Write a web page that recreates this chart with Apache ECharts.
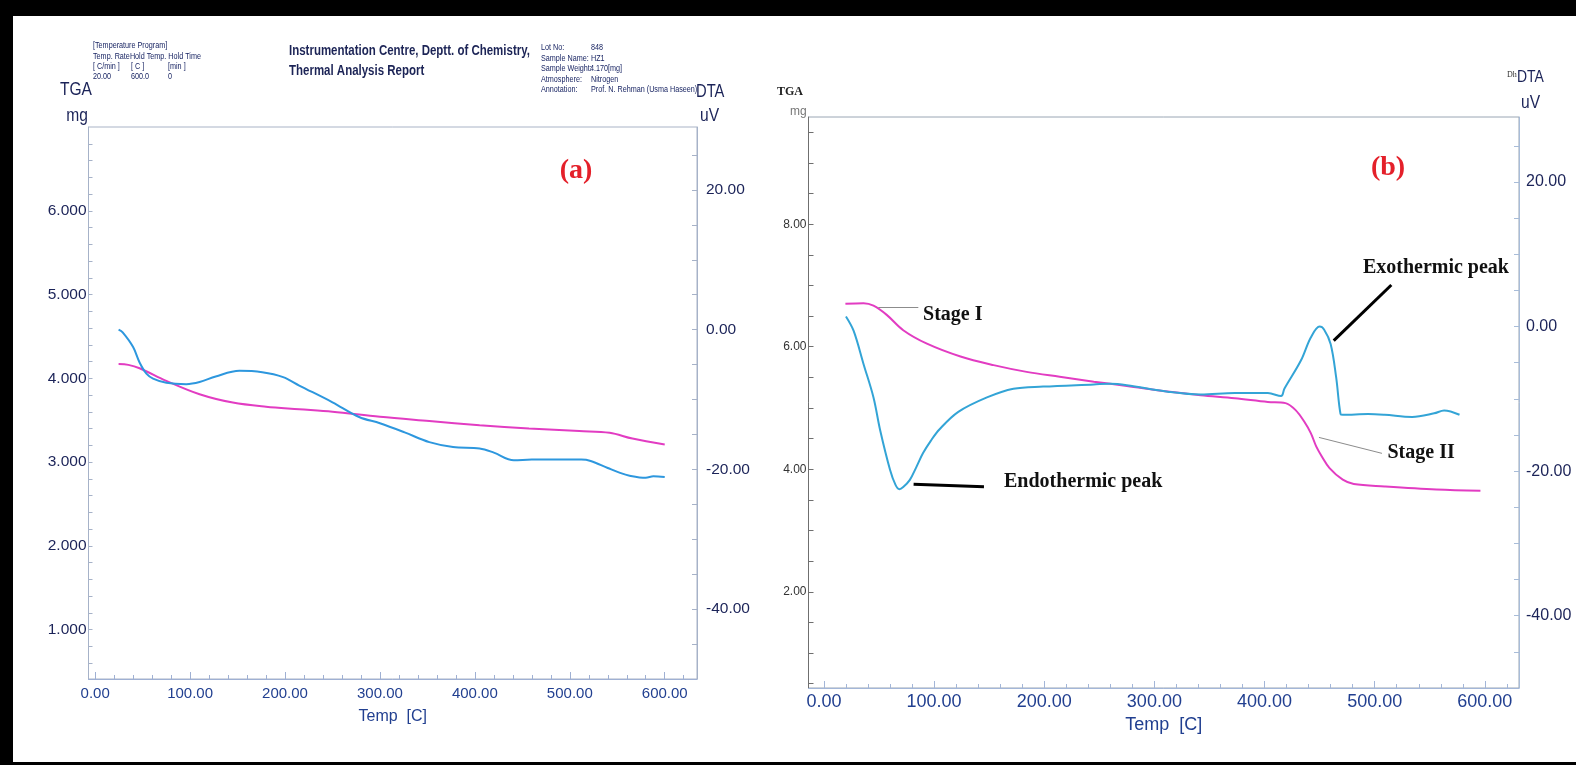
<!DOCTYPE html>
<html>
<head>
<meta charset="utf-8">
<title>TGA / DTA thermal analysis</title>
<script src="https://cdn.jsdelivr.net/npm/echarts@6/dist/echarts.min.js"></script>
<style>
  html, body { margin: 0; padding: 0; background: #fff; }
  #chart { width: 1576px; height: 765px; }
</style>
</head>
<body>
<div id="chart"></div>
<script>
// ---------- Run (a): TGA mass [mg] and DTA signal [uV] against temperature [C] ----------
const tgaA = [
  [24.7, 4.17], [35, 4.16], [46.8, 4.12], [75, 3.97], [110, 3.81], [145, 3.71],
  [180, 3.66], [215, 3.63], [250, 3.60], [300, 3.54], [352, 3.49], [405, 3.44],
  [457, 3.40], [510, 3.37], [542, 3.35], [566, 3.28], [600, 3.21]
];
const dtaA = [
  [24.7, 0.0], [29, -0.4], [40, -2.5], [46.8, -4.7], [54, -6.3], [61, -7.0],
  [75, -7.6], [96, -7.8], [110, -7.5], [127, -6.7], [152, -5.9], [176, -6.1],
  [198, -6.8], [215, -8.0], [250, -10.4], [278, -12.5], [300, -13.4], [326, -14.7],
  [352, -16.1], [377, -16.8], [405, -17.0], [420, -17.6], [441, -18.7], [460, -18.6],
  [512, -18.6], [522, -18.8], [540, -19.8], [553, -20.5], [563, -20.9], [580, -21.2],
  [588, -21.0], [600, -21.1]
];

// ---------- Run (b) ----------
const tgaB = [
  [19.5, 6.70], [36, 6.71], [45, 6.67], [57, 6.52], [72, 6.27], [93.5, 6.05],
  [124, 5.84], [154, 5.70], [184, 5.59], [214, 5.51], [245, 5.43], [275, 5.36],
  [312, 5.27], [342, 5.21], [373, 5.16], [403, 5.10], [419, 5.08], [428, 4.97],
  [436, 4.78], [442, 4.59], [447, 4.37], [452, 4.21], [459, 4.02], [471, 3.83],
  [481, 3.76], [509, 3.72], [556, 3.67], [596, 3.65]
];
const dtaB = [
  [20, 1.4], [27, -0.6], [36, -5.2], [45, -9.8], [51, -14.3], [60, -19.8],
  [65, -21.9], [68.5, -22.5], [72, -22.2], [78, -21.2], [84, -19.4], [90, -17.5],
  [97, -15.8], [105, -14.2], [122, -11.8], [148, -9.8], [172, -8.6], [199, -8.3],
  [245, -8.0], [260, -7.9], [275, -8.1], [312, -9.0], [342, -9.4], [373, -9.2],
  [403, -9.2], [415, -9.6], [418, -8.6], [433, -4.7], [442, -1.5], [450, 0.0],
  [454, -0.4], [460, -2.4], [465, -7.0], [469, -12.1], [471, -12.2], [494, -12.1],
  [509, -12.2], [534, -12.5], [554, -12.0], [563, -11.6], [577, -12.2]
];

// ---------- Tick labels ----------
const tempLabels = [0, 100, 200, 300, 400, 500, 600];
const massLabelsA = [1, 2, 3, 4, 5, 6];
const massLabelsB = [2, 4, 6, 8];
const dtaLabels = [-40, -20, 0, 20];

// ---------- Annotations of run (b), in data units ----------
const leadersB = [
  { on: 'tga', from: [49.4, 6.64], to: [85.7, 6.64], color: '#8c8c8c', width: 1 },
  { on: 'dta', from: [515.1, 5.76], to: [462.8, -1.95], color: '#000', width: 3 },
  { on: 'tga', from: [449.4, 4.52], to: [506.6, 4.26], color: '#8c8c8c', width: 1 },
  { on: 'dta', from: [81.4, -21.8], to: [145.3, -22.15], color: '#000', width: 3 }
];
const notesB = [
  { on: 'tga', text: 'Stage I', at: [90, 6.52], pos: 'right' },
  { on: 'dta', text: 'Exothermic peak', at: [555.6, 8.1], pos: 'inside' },
  { on: 'tga', text: 'Stage II', at: [511.6, 4.27], pos: 'right' },
  { on: 'dta', text: 'Endothermic peak', at: [163.5, -21.5], pos: 'right' }
];

// ---------- helpers ----------
function steps(from, to, step) {
  const out = [];
  for (let v = from; v <= to + 1e-9; v += step) out.push(+v.toFixed(4));
  return out;
}

const SANS = "'Liberation Sans',Arial,sans-serif";
const SERIF = "'Liberation Serif','Times New Roman',serif";
const PINK = '#e23cc2';
const BLUE_A = '#2d97de';
const BLUE_B = '#33a4d6';
const NAVY = '#1b2358';
const XBLUE = '#213f90';
const NARROW_X = 0.82;   // horizontal squeeze for the instrument's narrow lettering

function leaderData(list, key) {
  return list.filter(l => l.on === key).map(l => [
    { coord: l.from, lineStyle: { color: l.color, width: l.width, type: 'solid' } },
    { coord: l.to }
  ]);
}
function noteData(list, key) {
  return list.filter(n => n.on === key).map(n => ({
    coord: n.at,
    symbol: 'circle',
    symbolSize: 0.01,
    itemStyle: { color: 'transparent' },
    label: {
      show: true, formatter: n.text, position: n.pos, distance: 0,
      fontFamily: SERIF, fontWeight: 'bold', fontSize: 20, color: '#111'
    }
  }));
}

function tempAxis(grid, min, max, o) {
  return [
    {
      type: 'value', gridIndex: grid, min: min, max: max, position: 'bottom',
      axisLine: { show: true, onZero: false, lineStyle: { color: o.line, width: 1 } },
      axisTick: { show: true, inside: true, length: 4, customValues: steps(0, 620, 20),
                  lineStyle: { color: o.line } },
      axisLabel: { show: true, customValues: tempLabels, formatter: v => v.toFixed(2),
                   fontFamily: SANS, fontSize: o.labelSize, color: XBLUE, margin: o.margin },
      splitLine: { show: false },
      name: 'Temp  [C]', nameLocation: 'middle', nameGap: o.nameGap,
      nameTextStyle: { fontFamily: SANS, fontSize: o.nameSize, color: XBLUE }
    },
    {
      // longer ticks under the labelled temperatures
      type: 'value', gridIndex: grid, min: min, max: max, position: 'bottom',
      axisLine: { show: false, onZero: false },
      axisTick: { show: true, inside: true, length: 7, customValues: tempLabels,
                  lineStyle: { color: o.line } },
      axisLabel: { show: false }, splitLine: { show: false }
    }
  ];
}

function valueAxis(grid, pos, min, max, ticks, labels, fmt, o) {
  return {
    type: 'value', gridIndex: grid, position: pos, min: min, max: max,
    axisLine: { show: true, onZero: false, lineStyle: { color: o.line, width: 1 } },
    axisTick: { show: true, inside: true, length: o.tick, customValues: ticks,
                lineStyle: { color: o.line } },
    axisLabel: { show: true, customValues: labels, formatter: fmt,
                 fontFamily: SANS, fontSize: o.size, color: o.color, margin: o.margin },
    splitLine: { show: false }
  };
}

// text placed at (x, y); sx squeezes it horizontally around its anchor
function txt(x, y, text, font, fill, align, sx) {
  const a = align || 'left';
  return {
    type: 'text', silent: true, z: 10, x: x, y: y, scaleX: sx || 1, scaleY: 1,
    style: { x: 0, y: 0, text: text, font: font, fill: fill,
             textAlign: a, textVerticalAlign: 'middle', align: a, verticalAlign: 'middle' }
  };
}
function ntxt(x, y, text, font, fill, align) {
  return txt(x, y, text, font, fill, align, NARROW_X);
}

const hdr = "8.8px " + SANS;
const HDR = '#1a2664';

const option = {
  animation: false,
  backgroundColor: '#ffffff',
  grid: [
    { left: 88.5, top: 127, width: 608.5, height: 552, show: true,
      borderColor: '#a9b3c6', borderWidth: 1, backgroundColor: 'transparent',
      containLabel: false, outerBoundsMode: 'none' },
    { left: 808.5, top: 117, width: 710.5, height: 571, show: true,
      borderColor: '#9aa6b4', borderWidth: 1, backgroundColor: 'transparent',
      containLabel: false, outerBoundsMode: 'none' }
  ],
  xAxis: [].concat(
    tempAxis(0, -7, 634, { line: '#9fb0d3', labelSize: 15, margin: 7, nameGap: 30, nameSize: 16 }),
    tempAxis(1, -14, 631, { line: '#a3b6d8', labelSize: 18, margin: 5, nameGap: 26, nameSize: 18 })
  ),
  yAxis: [
    valueAxis(0, 'left', 0.41, 7.0, steps(0.6, 6.8, 0.2), massLabelsA, v => v.toFixed(3),
      { line: '#a6b2c8', tick: 4, size: 15.5, color: NAVY, margin: 2 }),
    valueAxis(0, 'right', -50, 29, steps(-45, 25, 5), dtaLabels, v => v.toFixed(2),
      { line: '#a6b2c8', tick: 5, size: 15.5, color: NAVY, margin: 9 }),
    valueAxis(1, 'left', 0.43, 9.75, steps(0.5, 9.5, 0.5), massLabelsB, v => v.toFixed(2),
      { line: '#6f6f6f', tick: 5, size: 12, color: '#333', margin: 2 }),
    valueAxis(1, 'right', -50, 29, steps(-45, 25, 5), dtaLabels, v => v.toFixed(2),
      { line: '#a8bcd8', tick: 5, size: 16, color: NAVY, margin: 7 })
  ],
  series: [
    { name: 'TGA (a)', type: 'line', xAxisIndex: 0, yAxisIndex: 0, data: tgaA,
      showSymbol: false, smooth: 0.35, lineStyle: { color: PINK, width: 2 }, z: 3 },
    { name: 'DTA (a)', type: 'line', xAxisIndex: 0, yAxisIndex: 1, data: dtaA,
      showSymbol: false, smooth: 0.35, lineStyle: { color: BLUE_A, width: 2 }, z: 3 },
    { name: 'TGA (b)', type: 'line', xAxisIndex: 2, yAxisIndex: 2, data: tgaB,
      showSymbol: false, smooth: 0.35, lineStyle: { color: PINK, width: 2 }, z: 3,
      markLine: { silent: true, symbol: ['none', 'none'], label: { show: false },
                  data: leaderData(leadersB, 'tga') },
      markPoint: { silent: true, data: noteData(notesB, 'tga') } },
    { name: 'DTA (b)', type: 'line', xAxisIndex: 2, yAxisIndex: 3, data: dtaB,
      showSymbol: false, smooth: 0.35, lineStyle: { color: BLUE_B, width: 2 }, z: 3,
      markLine: { silent: true, symbol: ['none', 'none'], label: { show: false },
                  data: leaderData(leadersB, 'dta') },
      markPoint: { silent: true, data: noteData(notesB, 'dta') } }
  ],
  graphic: [
    // frame
    { type: 'rect', silent: true, shape: { x: 0, y: 0, width: 13, height: 765 }, style: { fill: '#000' } },
    { type: 'rect', silent: true, shape: { x: 0, y: 0, width: 1576, height: 16 }, style: { fill: '#000' } },
    { type: 'rect', silent: true, shape: { x: 0, y: 762, width: 1576, height: 3 }, style: { fill: '#000' } },

    // run (a) report header
    ntxt(93, 46, '[Temperature Program]', hdr, HDR),
    ntxt(93, 57, 'Temp. RateHold Temp. Hold Time', hdr, HDR),
    ntxt(93, 67, '[ C/min ]', hdr, HDR),
    ntxt(131, 67, '[ C ]', hdr, HDR),
    ntxt(168, 67, '[min ]', hdr, HDR),
    ntxt(93, 77, '20.00', hdr, HDR),
    ntxt(131, 77, '600.0', hdr, HDR),
    ntxt(168, 77, '0', hdr, HDR),
    ntxt(289, 51, 'Instrumentation Centre, Deptt. of Chemistry,', "bold 14px " + SANS, '#1c2456'),
    ntxt(289, 71, 'Thermal Analysis Report', "bold 14px " + SANS, '#1c2456'),
    ntxt(541, 47.5, 'Lot No:', hdr, HDR),
    ntxt(591, 47.5, '848', hdr, HDR),
    ntxt(541, 58.5, 'Sample Name:', hdr, HDR),
    ntxt(591, 58.5, 'HZ1', hdr, HDR),
    ntxt(541, 69, 'Sample Weight:', hdr, HDR),
    ntxt(590, 69, '4.170[mg]', hdr, HDR),
    ntxt(541, 79.5, 'Atmosphere:', hdr, HDR),
    ntxt(591, 79.5, 'Nitrogen', hdr, HDR),
    ntxt(541, 90, 'Annotation:', hdr, HDR),
    ntxt(591, 90, 'Prof. N. Rehman (Usma Haseen)', hdr, HDR),

    // run (a) axis captions
    ntxt(76, 90, 'TGA', "19px " + SANS, NAVY, 'center'),
    ntxt(88, 116, 'mg', "19px " + SANS, NAVY, 'right'),
    ntxt(696, 92, 'DTA', "18px " + SANS, NAVY),
    ntxt(700, 116, 'uV', "19px " + SANS, NAVY),
    txt(576, 171, '(a)', "bold 28px " + SERIF, '#e4202a', 'center'),

    // run (b) axis captions
    txt(777, 92, 'TGA', "bold 12px " + SERIF, '#222'),
    txt(790, 112, 'mg', "12px " + SANS, '#777'),
    txt(1507, 75, 'Dh', "8px " + SERIF, '#333'),
    ntxt(1517, 77, 'DTA', "17px " + SANS, NAVY),
    ntxt(1521, 103, 'uV', "19px " + SANS, NAVY),
    txt(1388, 168, '(b)', "bold 28px " + SERIF, '#e4202a', 'center')
  ]
};

const chart = echarts.init(document.getElementById('chart'), null, { renderer: 'canvas' });
chart.setOption(option);
</script>
</body>
</html>
